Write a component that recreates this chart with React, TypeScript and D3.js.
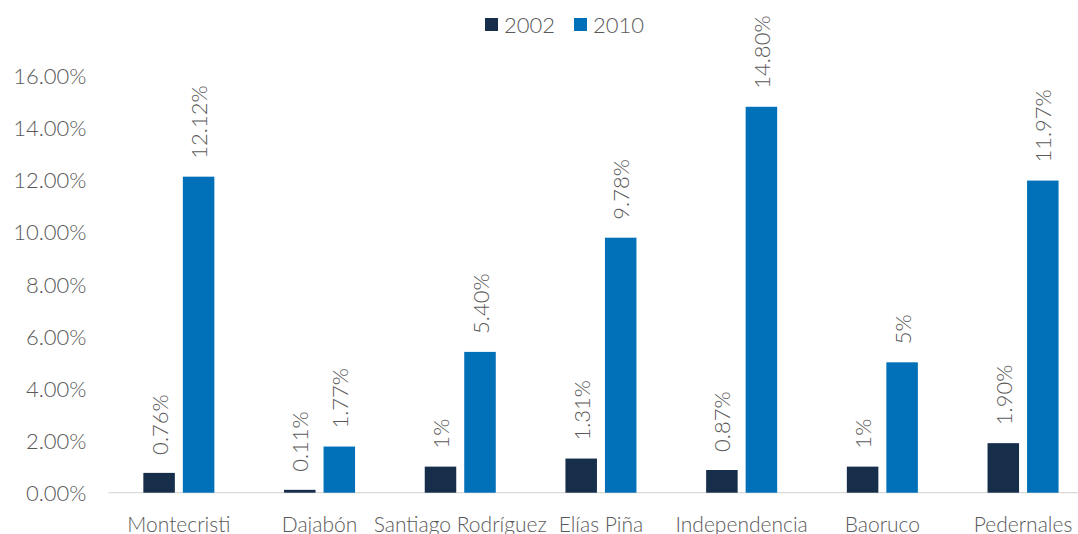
import React from "react";
import * as d3 from "d3";

const categories = ["Montecristi", "Dajabón", "Santiago Rodríguez", "Elías Piña", "Independencia", "Baoruco", "Pedernales"];
const seriesNames = ["2002", "2010"];
const values2002 = [0.76, 0.11, 1, 1.31, 0.87, 1, 1.9];
const values2010 = [12.12, 1.77, 5.4, 9.78, 14.8, 5, 11.97];
const labels2002 = ["0.76%", "0.11%", "1%", "1.31%", "0.87%", "1%", "1.90%"];
const labels2010 = ["12.12%", "1.77%", "5.40%", "9.78%", "14.80%", "5%", "11.97%"];
const yTicks = [0, 2, 4, 6, 8, 10, 12, 14, 16];
const colors = ["#172e4b", "#0070b8"];

const W = 1078;
const H = 534;
const FONT = "Lato, sans-serif";
const TEXT = "#595959";
const FS = 21;
const FSN = 22;
const FW = 300;

export default function App() {
  const x = d3.scaleBand<string>().domain(categories).range([108.5, 1093.4]).padding(0);
  const xs = d3.scaleBand<string>().domain(seriesNames).range([0, x.bandwidth()]).paddingInner(0.2025).paddingOuter(0.882);
  const y = d3.scaleLinear().domain([0, 16]).range([492.7, 75.5]);
  const seriesVals = [values2002, values2010];
  const seriesLabels = [labels2002, labels2010];

  return (
    <svg width={W} height={H} style={{ position: "absolute", left: 0, top: 0, background: "#fff" }} fontFamily={FONT}>
      {yTicks.map((t) => (
        <text key={t} x={86.5} y={y(t)} textAnchor="end" dominantBaseline="central" fontSize={FSN} fontWeight={FW} fill={TEXT}>
          {t.toFixed(2) + "%"}
        </text>
      ))}
      <line x1={108.5} x2={W} y1={y(0)} y2={y(0)} stroke="#d9d9d9" strokeWidth={1.3} />
      {seriesNames.map((s, si) =>
        categories.map((c, ci) => {
          const v = seriesVals[si][ci];
          const bx = (x(c) as number) + (xs(s) as number);
          return (
            <rect key={s + c} x={bx} y={y(v)} width={xs.bandwidth()} height={y(0) - y(v)} fill={colors[si]} />
          );
        })
      )}
      {seriesNames.map((s, si) =>
        categories.map((c, ci) => {
          const v = seriesVals[si][ci];
          const cx = (x(c) as number) + (xs(s) as number) + xs.bandwidth() / 2;
          const ty = y(v) - 18;
          return (
            <text key={"l" + s + c} transform={`translate(${cx},${ty}) rotate(-90)`} textAnchor="start" dominantBaseline="central" fontSize={FSN} fontWeight={FW} fill={TEXT}>
              {seriesLabels[si][ci]}
            </text>
          );
        })
      )}
      {categories.map((c) => (
        <text key={"x" + c} x={(x(c) as number) + x.bandwidth() / 2} y={523} textAnchor="middle" dominantBaseline="central" fontSize={FS} fontWeight={FW} fill={TEXT}>
          {c}
        </text>
      ))}
      {seriesNames.map((s, si) => {
        const lx = si === 0 ? 485 : 574;
        return (
          <g key={"leg" + s}>
            <rect x={lx} y={18} width={13} height={13} fill={colors[si]} />
            <text x={lx + 19} y={24.5} dominantBaseline="central" fontSize={FSN} fontWeight={FW} fill={TEXT}>
              {s}
            </text>
          </g>
        );
      })}
    </svg>
  );
}
